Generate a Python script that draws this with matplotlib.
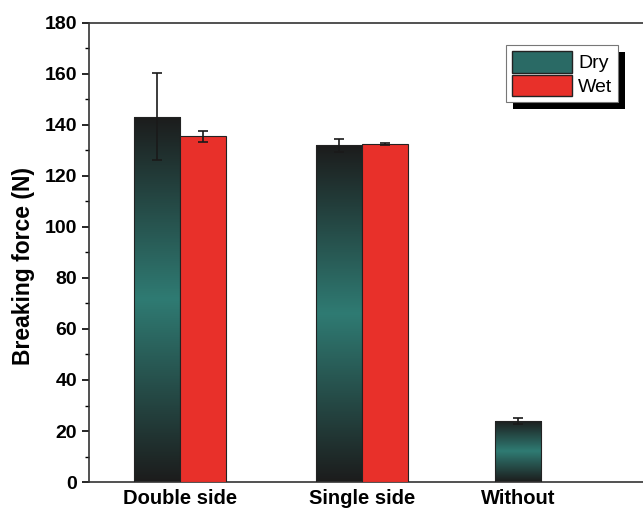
import numpy as np
import matplotlib.pyplot as plt
from matplotlib.colors import LinearSegmentedColormap
from matplotlib.patches import Patch, Rectangle

plt.rcParams['font.family'] = ['Liberation Sans', 'DejaVu Sans']

groups = ['Double side', 'Single side', 'Without']
group_pos = [0.0, 1.0, 1.857]
dry_vals = [143.2, 132.0, 24.0]
dry_err = [17.0, 2.6, 1.2]
wet_vals = [135.5, 132.5]
wet_err = [2.0, 0.4]

width = 0.255
teal = '#2f7b73'
dark = '#1c1c1c'
red = '#e8302a'
cmap = LinearSegmentedColormap.from_list('dry', [dark, teal, dark])

fig = plt.figure(figsize=(6.43, 5.09), dpi=100)
ax = fig.add_axes([0.1384, 0.053, 0.8616, 0.902])

# dry bars sit left of centre, except "Without" which has no wet bar
dry_x = [group_pos[0] - width / 2, group_pos[1] - width / 2, group_pos[2]]
wet_x = [group_pos[0] + width / 2, group_pos[1] + width / 2]

dry_bars = ax.bar(dry_x, dry_vals, width, facecolor='none', edgecolor='#222222',
                  linewidth=0.8, zorder=3)
grad = np.linspace(0, 1, 256).reshape(-1, 1)
for b in dry_bars:
    x0, y0 = b.get_x(), b.get_y()
    im = ax.imshow(grad, cmap=cmap, aspect='auto', origin='lower',
                   extent=[x0, x0 + b.get_width(), y0, y0 + b.get_height()], zorder=2)
    im.set_clip_path(b)
ax.errorbar(dry_x, dry_vals, yerr=dry_err, fmt='none', ecolor='#1a1a1a',
            elinewidth=1.2, capsize=3.5, capthick=1.2, zorder=4)

ax.bar(wet_x, wet_vals, width, color=red, edgecolor='#222222', linewidth=0.8, zorder=3)
ax.errorbar(wet_x, wet_vals, yerr=wet_err, fmt='none', ecolor='#1a1a1a',
            elinewidth=1.2, capsize=3.5, capthick=1.2, zorder=4)

ax.set_xlim(-0.5, 2.544)
ax.set_ylim(0, 180)
ax.set_xticks(group_pos)
ax.set_xticklabels(groups, fontsize=14.5, fontweight='bold')
ax.set_yticks(np.arange(0, 181, 20))
ax.set_yticks(np.arange(0, 181, 10), minor=True)
ax.tick_params(axis='y', which='major', labelsize=14, length=5, width=1.2, direction='out')
ax.tick_params(axis='y', which='minor', length=3, width=1.0, direction='out')
ax.tick_params(axis='x', length=0, pad=5)
for lab in ax.get_yticklabels():
    lab.set_fontweight('bold')
ax.set_ylabel('Breaking force (N)', fontsize=16.5, fontweight='bold')
ax.yaxis.set_label_coords(-0.098, 0.47)

for s in ['left', 'bottom', 'top']:
    ax.spines[s].set_linewidth(1.2)
    ax.spines[s].set_color('#333333')
ax.spines['right'].set_visible(False)

handles = [Patch(facecolor='#2a6a65', edgecolor='#222222'),
           Patch(facecolor=red, edgecolor='#222222')]
leg = ax.legend(handles, ['Dry', 'Wet'], loc='upper right', bbox_to_anchor=(0.955, 0.952),
                borderaxespad=0, fontsize=14, frameon=True, fancybox=False, framealpha=1,
                handlelength=3.1, handleheight=1.35, handletextpad=0.3,
                labelspacing=0.1, borderpad=0.3)
leg.get_frame().set_edgecolor('#777777')
leg.get_frame().set_linewidth(0.8)
leg.set_zorder(6)

# solid offset shadow behind the legend box
fig.canvas.draw()
bb = leg.get_window_extent().transformed(fig.transFigure.inverted())
dx, dy = 7 / 643, 7 / 509
ax.add_patch(Rectangle((bb.x0 + dx, bb.y0 - dy), bb.width, bb.height,
                       transform=fig.transFigure, facecolor='black', edgecolor='none',
                       zorder=5, clip_on=False))

fig.savefig('out.png', dpi=100)
